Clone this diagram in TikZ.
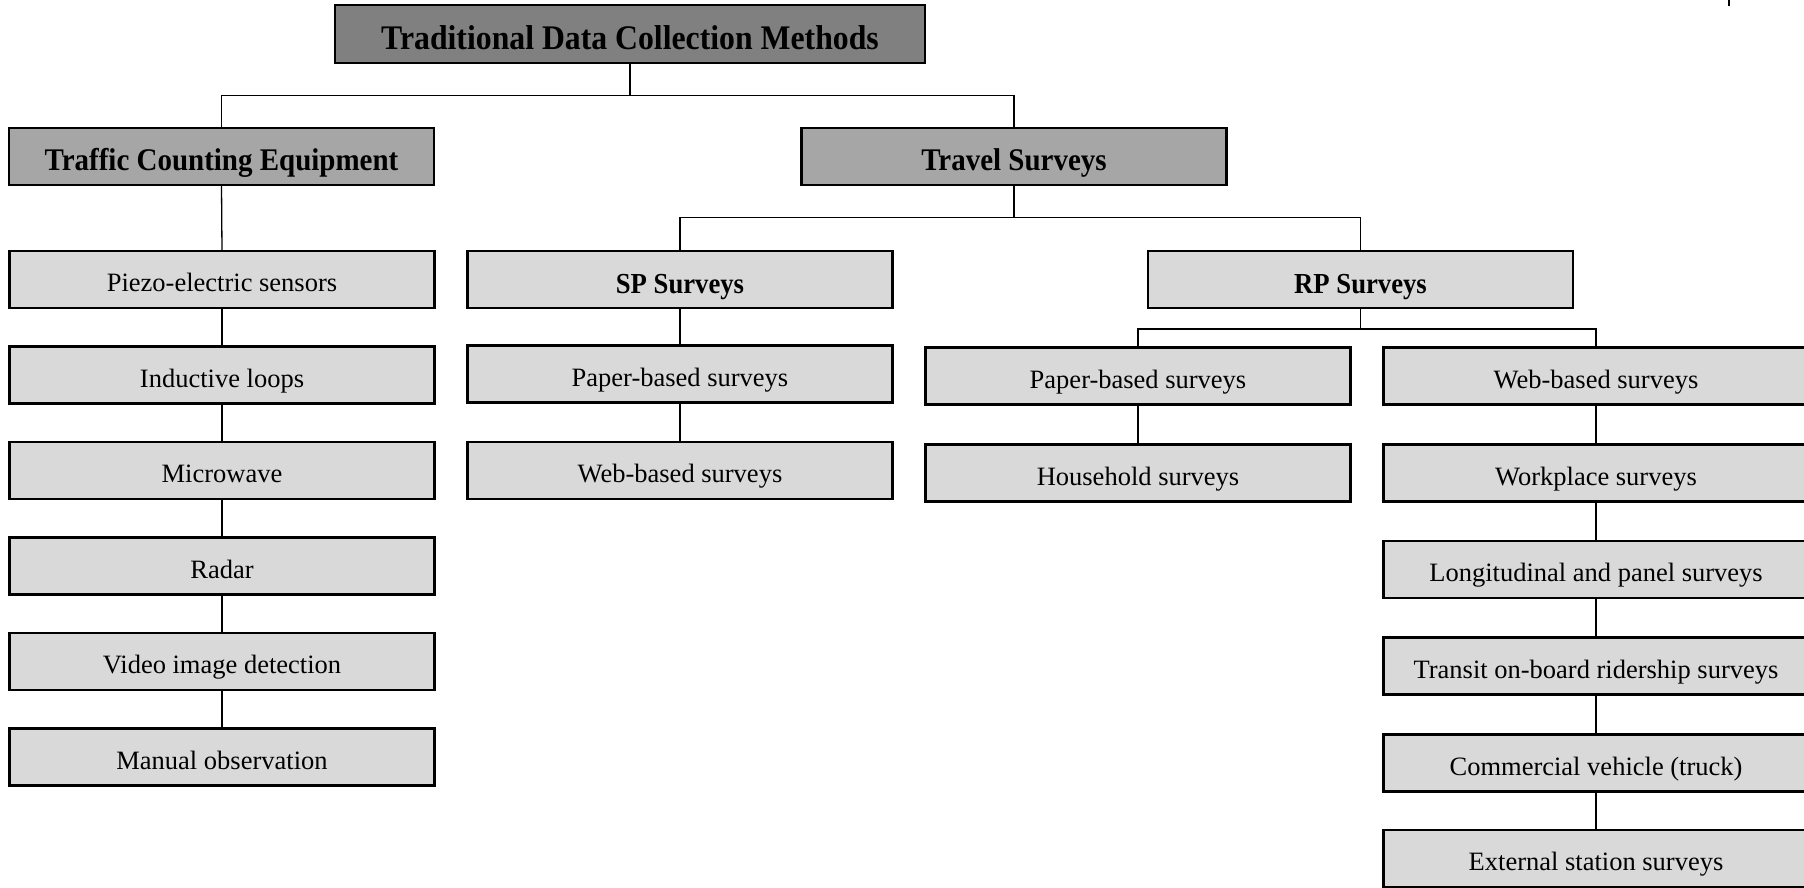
\documentclass[tikz,border=0pt]{standalone}
\usepackage{fontspec}
\setmainfont{Liberation Serif}
\newfontfamily\condfont{Liberation Serif}[FakeStretch=0.92]
\definecolor{gtop}{HTML}{808080}
\definecolor{gmid}{HTML}{A6A6A6}
\definecolor{glow}{HTML}{D9D9D9}
\begin{document}
\begin{tikzpicture}[x=1pt,y=-1pt,
  box/.style={draw=black,line width=2.3pt,rectangle,inner sep=0pt,outer sep=0pt,
    minimum width=425pt,minimum height=57pt,fill=glow,
    text height=24pt,text depth=0pt,
    font=\fontsize{26.5}{30}\selectfont},
  topbox/.style={box,fill=gtop,minimum width=590pt,minimum height=58pt,
    text height=30.5pt,
    font=\condfont\fontsize{34.5}{38}\selectfont\bfseries},
  midbox/.style={box,fill=gmid,text height=29pt,
    font=\condfont\fontsize{31.5}{35}\selectfont\bfseries},
  subbox/.style={box,text height=28pt,
    font=\condfont\fontsize{29}{33}\selectfont\bfseries},
  conn/.style={draw=black,line width=1.3pt}]
\useasboundingbox (0,0) rectangle (1804,888);
\fill[white] (0,0) rectangle (1804,888);

% top level
\node[topbox] (top) at (630,34) {Traditional Data Collection Methods};
\node[midbox] (tce) at (221.5,156.5) {Traffic Counting Equipment};
\node[midbox] (trav) at (1014,156.5) {Travel Surveys};

% traffic counting column
\node[box] (pz) at (222,279.5) {Piezo-electric sensors};
\node[box] (il) at (222,375) {Inductive loops};
\node[box] (mw) at (222,470.5) {Microwave};
\node[box] (rd) at (222,566) {Radar};
\node[box] (vi) at (222,661.5) {Video image detection};
\node[box] (mo) at (222,757) {Manual observation};

% travel surveys
\node[subbox] (sp) at (680,279.5) {SP Surveys};
\node[subbox] (rp) at (1360.5,279.5) {RP Surveys};
\node[box] (sppb) at (680,374) {Paper-based surveys};
\node[box] (spwb) at (680,470.5) {Web-based surveys};

\node[box] (rppb) at (1138,376) {Paper-based surveys};
\node[box] (hh) at (1138,473) {Household surveys};

\node[box] (rpwb) at (1596,376) {Web-based surveys};
\node[box] (wp) at (1596,473) {Workplace surveys};
\node[box] (lp) at (1596,569.5) {Longitudinal and panel surveys};
\node[box] (tr) at (1596,666) {Transit on-board ridership surveys};
\node[box] (cv) at (1596,763) {Commercial vehicle (truck)};
\node[box] (es) at (1596,858.5) {External station surveys};

% junctions
\coordinate (j1) at (630,95.5);
\coordinate (j2) at (1014,217.5);
\coordinate (j3) at (1360.5,329);

\draw[conn] (top.south) -- (j1);
\draw[conn] (tce.north) |- (trav.north |- j1) -- (trav.north);
\draw[conn] (trav.south) -- (j2);
\draw[conn] (sp.north) |- (rp.north |- j2) -- (rp.north);
\draw[conn] (rp.south) -- (j3);
\draw[conn] (rppb.north) |- (rpwb.north |- j3) -- (rpwb.north);

\draw[conn] (tce.south) -- (pz.north);
\draw[conn] (pz.south) -- (il.north);
\draw[conn] (il.south) -- (mw.north);
\draw[conn] (mw.south) -- (rd.north);
\draw[conn] (rd.south) -- (vi.north);
\draw[conn] (vi.south) -- (mo.north);

\draw[conn] (sp.south) -- (sppb.north);
\draw[conn] (sppb.south) -- (spwb.north);
\draw[conn] (rppb.south) -- (hh.north);

\draw[conn] (rpwb.south) -- (wp.north);
\draw[conn] (wp.south) -- (lp.north);
\draw[conn] (lp.south) -- (tr.north);
\draw[conn] (tr.south) -- (cv.north);
\draw[conn] (cv.south) -- (es.north);

% cropped fragment mark at top right
\draw[line width=1.3pt] (1729,0) -- (1729,6);
\end{tikzpicture}
\end{document}
